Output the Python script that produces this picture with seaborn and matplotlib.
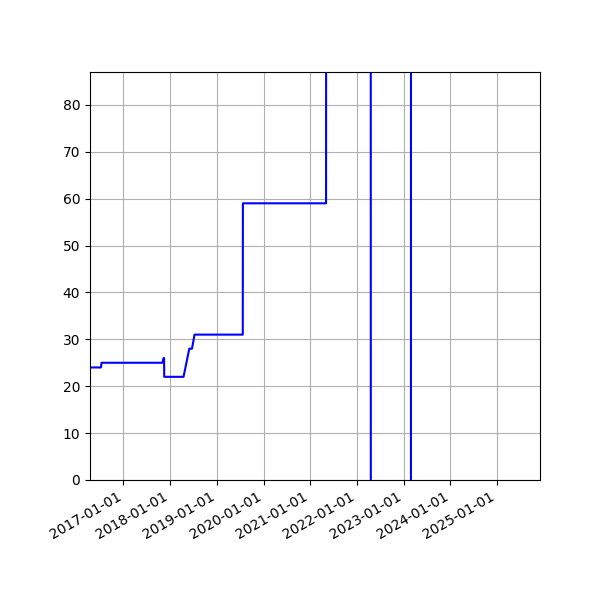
import pandas as pd
import matplotlib
matplotlib.use("Agg")
import matplotlib.pyplot as plt
import matplotlib.dates as mdates
import seaborn as sns

# values (points where the level changes)
dates = ['2016-04-01', '2016-07-10', '2016-07-14', '2017-11-01', '2017-11-11',
         '2017-11-15', '2017-11-16', '2018-04-16', '2018-05-31', '2018-06-21',
         '2018-07-11', '2019-07-23', '2019-07-24', '2021-05-04', '2021-05-05',
         '2022-04-18', '2022-04-19', '2023-02-26', '2023-02-27', '2025-12-31']
values = [24, 24, 25, 25, 26,
          26, 22, 22, 28, 28,
          31, 31, 59, 59, 150,
          150, -50, -50, 150, 150]

df = pd.DataFrame({'date': pd.to_datetime(dates), 'value': values})

fig, ax = plt.subplots(figsize=(6, 6), dpi=100)
sns.lineplot(data=df, x='date', y='value', color='blue', estimator=None,
             sort=False, linewidth=1.5, ax=ax)

ax.set_xlim(pd.Timestamp('2016-04-15'), pd.Timestamp('2025-12-01'))
ax.set_ylim(0, 87)
ax.xaxis.set_major_locator(mdates.YearLocator())
ax.xaxis.set_major_formatter(mdates.DateFormatter('%Y-%m-%d'))
ax.grid(True)
ax.set_xlabel('')
ax.set_ylabel('')

fig.autofmt_xdate()
fig.subplots_adjust(left=0.15, right=0.9, top=0.88, bottom=0.2)
fig.savefig('out.png')
